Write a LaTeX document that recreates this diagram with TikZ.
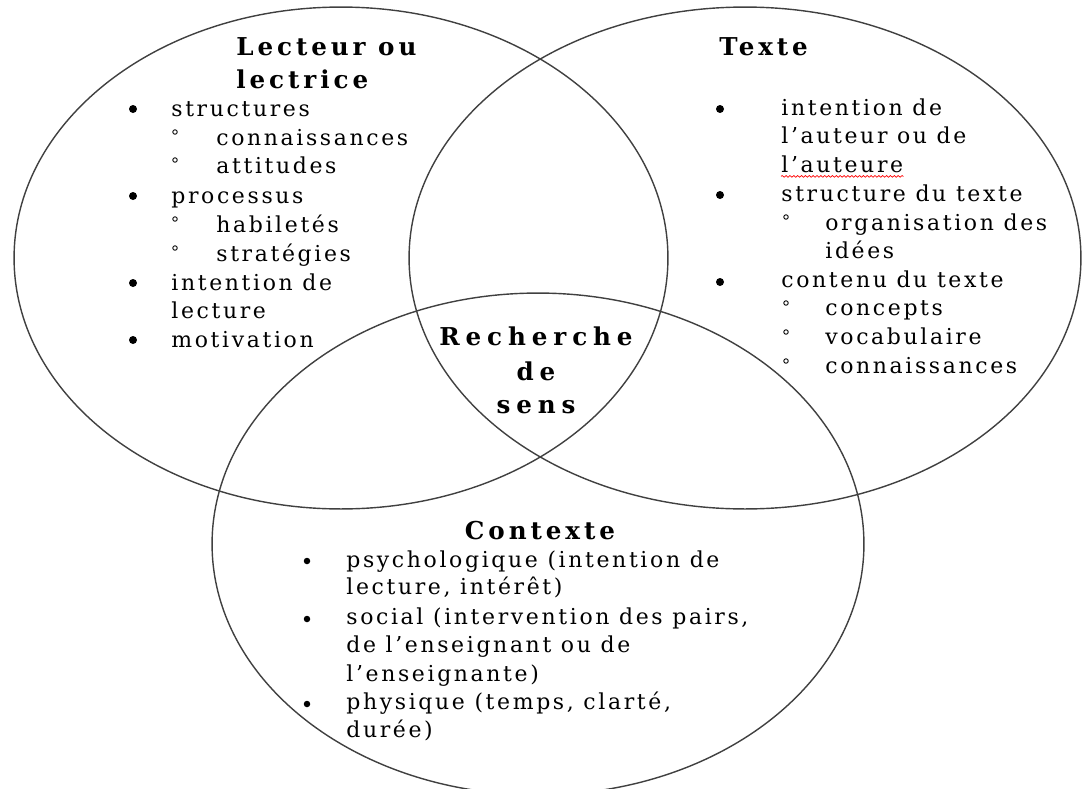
\documentclass[tikz,border=0pt]{standalone}
\usepackage{fontspec}
\setmainfont{DejaVu Serif}
\newfontfamily\wideserif[LetterSpace=12]{DejaVu Serif}
\newfontfamily\headserif[LetterSpace=16]{DejaVu Serif}
\newfontfamily\centreserif[LetterSpace=24]{DejaVu Serif}
\usetikzlibrary{shapes.geometric, decorations.pathmorphing}

\begin{document}
\begin{tikzpicture}[
    x=0.02cm, y=-0.02cm,
    venn/.style={ellipse, draw=black!75, line width=0.8pt, inner sep=0pt, minimum height=10.04cm},
    heading/.style={font=\headserif\bfseries\fontsize{14}{16}\selectfont, inner sep=0pt},
    item/.style={font=\wideserif\fontsize{12.5}{15}\selectfont, anchor=base west, inner sep=0pt},
    dot/.style={circle, fill=black, inner sep=0pt, minimum size=0.16cm},
    ring/.style={circle, draw=black, line width=0.5pt, inner sep=0pt, minimum size=0.09cm},
    squiggle/.style={red, line width=0.4pt, decorate, decoration={snake, amplitude=0.5pt, segment length=2.2pt}}
]
    \useasboundingbox (0,0) rectangle (1082,788);

    % Three sets
    \node[venn, minimum width=13.08cm] (lecteur) at (341,258) {};
    \node[venn, minimum width=13.44cm] (texte) at (745,258) {};
    \node[venn, minimum width=13.04cm] (contexte) at (538,544) {};

    % Lecteur ou lectrice
    \node[heading, anchor=base west] (hlec1) at (236,55) {Lecteur ou};
    \node[heading, anchor=base west] (hlec2) at (236,88) {lectrice};
    \node[dot] (bl1) at (133,109) {};
    \node[item] (l1) at (171,116) {structures};
    \node[ring] (rl1) at (175,132) {};
    \node[item] (l2) at (216,145) {connaissances};
    \node[ring] (rl2) at (175,160) {};
    \node[item] (l3) at (216,173) {attitudes};
    \node[dot] (bl2) at (133,196) {};
    \node[item] (l4) at (171,203) {processus};
    \node[ring] (rl3) at (175,219) {};
    \node[item] (l5) at (216,232) {habiletés};
    \node[ring] (rl4) at (175,248) {};
    \node[item] (l6) at (216,261) {stratégies};
    \node[dot] (bl3) at (133,283) {};
    \node[item] (l7) at (171,290) {intention de};
    \node[item] (l8) at (171,318) {lecture};
    \node[dot] (bl4) at (133,340) {};
    \node[item] (l9) at (171,347) {motivation};

    % Texte
    \node[heading, anchor=base west] (htex) at (719,55) {Texte};
    \node[dot] (bt1) at (720,109) {};
    \node[item] (t1) at (781,115) {intention de};
    \node[item] (t2) at (781,143) {l’auteur ou de};
    \node[item] (t3) at (781,172) {l’auteure};
    \draw[squiggle] ([yshift=-2.5pt]t3.base west) -- ([yshift=-2.5pt]t3.base east);
    \node[dot] (bt2) at (720,195) {};
    \node[item] (t4) at (781,201) {structure du texte};
    \node[ring] (rt1) at (786,217) {};
    \node[item] (t5) at (825,230) {organisation des};
    \node[item] (t6) at (825,258) {idées};
    \node[dot] (bt3) at (720,282) {};
    \node[item] (t7) at (781,287) {contenu du texte};
    \node[ring] (rt2) at (786,303) {};
    \node[item] (t8) at (825,315) {concepts};
    \node[ring] (rt3) at (786,332) {};
    \node[item] (t9) at (825,344) {vocabulaire};
    \node[ring] (rt4) at (786,361) {};
    \node[item] (t10) at (825,373) {connaissances};

    % Recherche de sens
    \node[heading, anchor=base, font=\centreserif\bfseries\fontsize{14}{16}\selectfont] (sens1) at (536,345) {Recherche};
    \node[heading, anchor=base, font=\centreserif\bfseries\fontsize{14}{16}\selectfont] (sens2) at (536,380) {de};
    \node[heading, anchor=base, font=\centreserif\bfseries\fontsize{14}{16}\selectfont] (sens3) at (536,413) {sens};

    % Contexte
    \node[heading, anchor=base] (hctx) at (540,539) {Contexte};
    \node[dot, minimum size=0.13cm] (bc1) at (307,561) {};
    \node[item] (c1) at (346,567) {psychologique (intention de};
    \node[item] (c2) at (346,594) {lecture, intérêt)};
    \node[dot, minimum size=0.13cm] (bc2) at (307,619) {};
    \node[item] (c3) at (346,624) {social (intervention des pairs,};
    \node[item] (c4) at (346,652) {de l’enseignant ou de};
    \node[item] (c5) at (346,681) {l’enseignante)};
    \node[dot, minimum size=0.13cm] (bc3) at (307,704) {};
    \node[item] (c6) at (346,709) {physique (temps, clarté,};
    \node[item] (c7) at (346,737) {durée)};
\end{tikzpicture}
\end{document}
